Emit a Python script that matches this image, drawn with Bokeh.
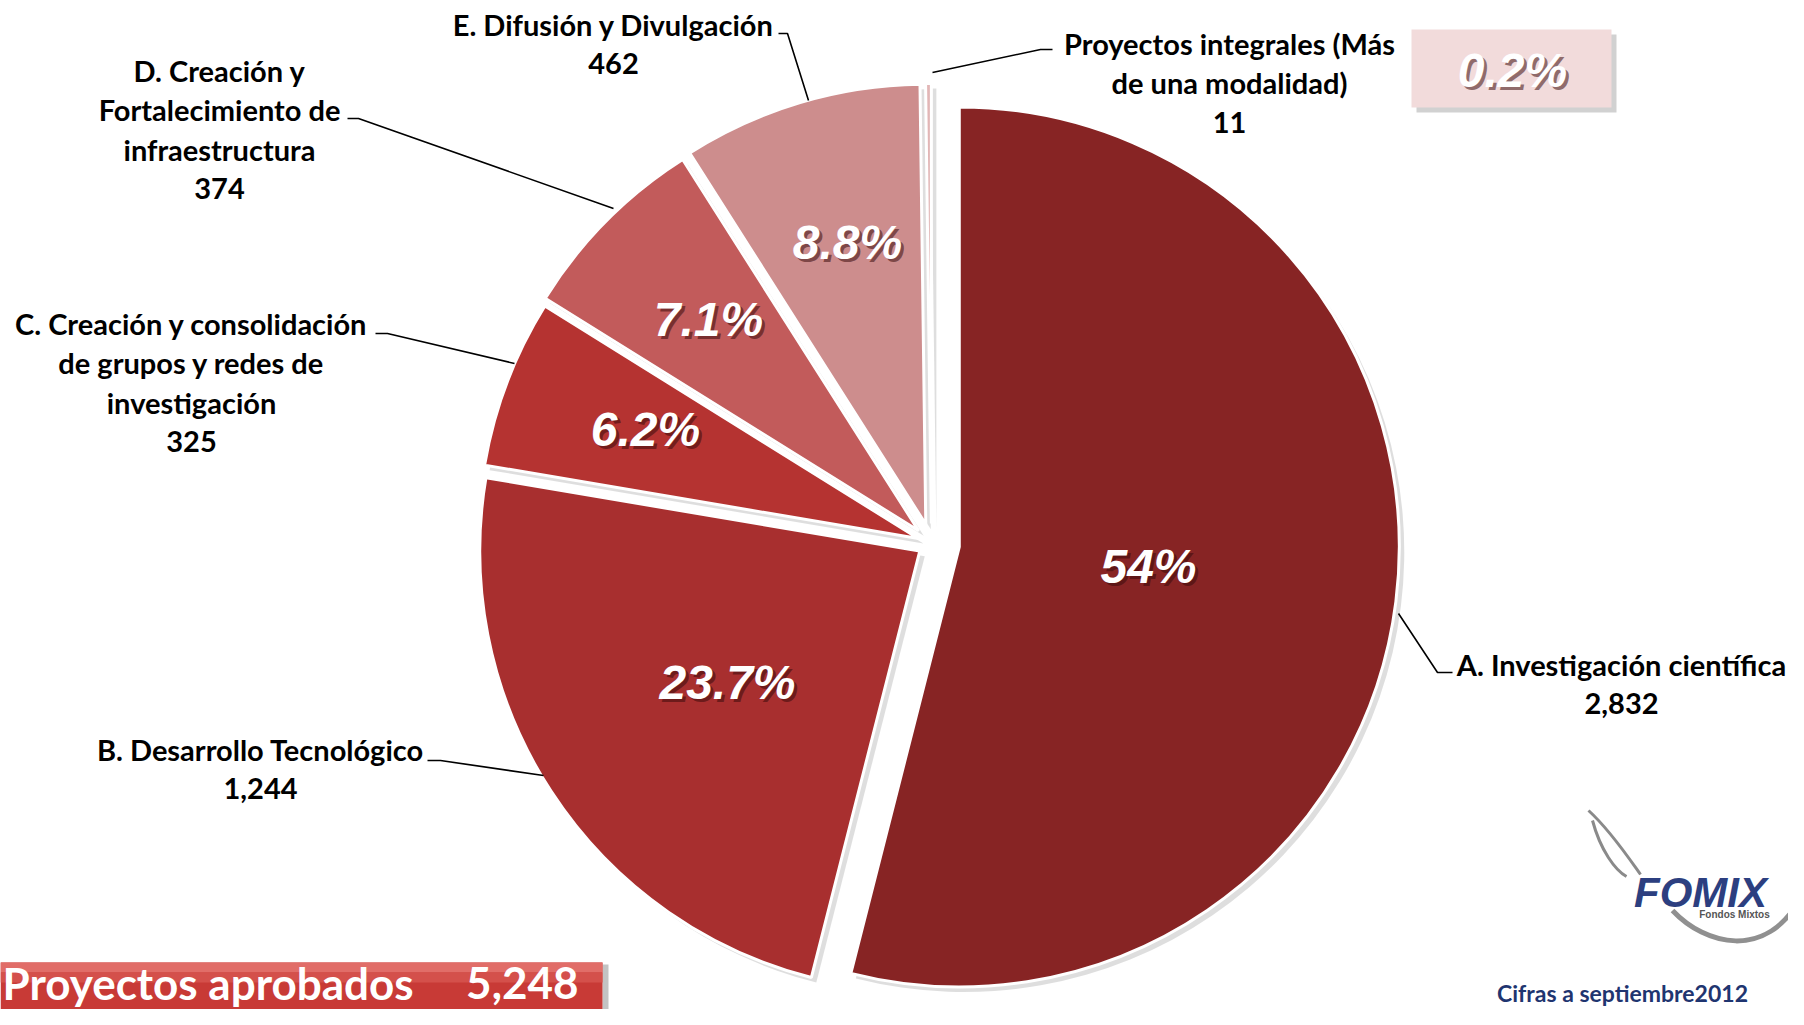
import numpy as np
from bokeh.plotting import figure
from bokeh.models import Range1d
from bokeh.embed import file_html
from bokeh.resources import INLINE
from bokeh.core.properties import value

# ---------------- data ----------------
label_lines = [
    ["A. Investigación científica"],
    ["B. Desarrollo Tecnológico"],
    ["C. Creación y consolidación", "de grupos y redes de", "investigación"],
    ["D. Creación y", "Fortalecimiento de", "infraestructura"],
    ["E. Difusión y Divulgación"],
    ["Proyectos integrales (Más", "de una modalidad)"],
]
counts = [2832, 1244, 325, 374, 462, 11]
total_label = "Proyectos aprobados"
footnote = "Cifras a septiembre2012"
logo_text = "FOMIX"
logo_sub = "Fondos Mixtos"

# ---------------- styles / layout ----------------
W, H = 1788, 1009
def Y(sy):  # reference pixel y -> data y
    return 1025 - sy

slice_colors = ["#872424", "#a82f2f", "#b53331", "#c25b5b", "#cd8d8d", "#e2b6b6"]
explode = [28, 14, 14, 18, 20, 20]
OX, OY, R = 931, Y(543), 440
pct_pos = [(1148, 566), (727, 682), (645, 429), (708, 319), (847, 242), (1512, 70)]
label_pos = [(1621, 664), (260, 749), (191, 323), (219, 70), (613, 24), (1229, 43)]
line_h = 39.3
leaders = [
    [(1398, 613), (1437, 672), (1452, 672)],
    [(543, 775), (440, 760), (427, 760)],
    [(514, 363), (387, 333), (375, 333)],
    [(613, 208), (358, 118), (347, 118)],
    [(808, 100), (787, 33), (778, 33)],
    [(932, 72), (1040, 49), (1052, 49)],
]
LABEL_FONT = value("Lato")
PCT_FONT = value("Liberation Sans")

p = figure(width=W, height=H, x_range=Range1d(0, W), y_range=Range1d(1025 - H, 1025),
           output_backend="svg", toolbar_location=None, min_border=0)
p.axis.visible = False
p.grid.visible = False
p.outline_line_color = None
p.background_fill_color = "white"
p.border_fill_color = "white"

# ---------------- pie ----------------
vals = np.array(counts, dtype=float)
total = vals.sum()
cum = np.cumsum(vals) / total
prev = np.concatenate([[0.0], cum[:-1]])
start = np.pi / 2 - 2 * np.pi * prev
end = np.pi / 2 - 2 * np.pi * cum
mid = (start + end) / 2
cx = OX + np.array(explode) * np.cos(mid)
cy = OY + np.array(explode) * np.sin(mid)

# soft shadow
p.wedge(x=cx + 5, y=cy - 5, radius=R, start_angle=start, end_angle=end, direction="clock",
        fill_color="#000000", fill_alpha=0.13, line_alpha=0)
p.wedge(x=cx, y=cy, radius=R, start_angle=start, end_angle=end, direction="clock",
        fill_color=slice_colors, line_color="white", line_width=3)

# percentage labels
def fmt_pct(v):
    s = f"{100 * v / total:.1f}"
    if s.endswith(".0"):
        s = s[:-2]
    return s + "%"
pcts = [fmt_pct(v) for v in counts]

# 0.2% box (for the tiny slice)
bx0, bx1, by0, by1 = 1411, 1611, 29, 107
p.quad(left=bx0 + 5, right=bx1 + 5, top=Y(by0 + 5), bottom=Y(by1 + 5),
       fill_color="#000000", fill_alpha=0.18, line_alpha=0)
p.quad(left=bx0, right=bx1, top=Y(by0), bottom=Y(by1), fill_color="#f2dbdb", line_alpha=0)

px = [q[0] for q in pct_pos]
py = [Y(q[1]) for q in pct_pos]
p.text(x=[x + 3 for x in px], y=[y - 3 for y in py], text=pcts, text_font=PCT_FONT,
       text_font_style="bold italic", text_font_size="48px", text_align="center",
       text_baseline="middle", text_color="#3a0a0a", text_alpha=0.55)
p.text(x=px, y=py, text=pcts, text_font=PCT_FONT, text_font_style="bold italic",
       text_font_size="48px", text_align="center", text_baseline="middle", text_color="white")

# leader lines
for pts in leaders:
    p.line(x=[q[0] for q in pts], y=[Y(q[1]) for q in pts], line_color="black", line_width=1.6)

# category labels with counts
for lines, cnt, (lx, ly) in zip(label_lines, counts, label_pos):
    all_lines = lines + [f"{cnt:,}"]
    p.text(x=[lx] * len(all_lines), y=[Y(ly + i * line_h) for i in range(len(all_lines))],
           text=all_lines, text_font=LABEL_FONT, text_font_style="bold", text_font_size="29px",
           text_align="center", text_baseline="middle", text_color="black")

# ---------------- bottom-left total box ----------------
btop = 962
p.quad(left=602, right=608, top=Y(btop + 2), bottom=0, fill_color="#888888", fill_alpha=0.5, line_alpha=0)
p.quad(left=0, right=602, top=Y(btop), bottom=0, fill_color="#c83a36", line_alpha=0)
p.quad(left=0, right=602, top=Y(btop), bottom=Y(btop + 10), fill_color="#e16d68", line_alpha=0)
p.quad(left=0, right=602, top=Y(btop + 10), bottom=Y(btop + 20), fill_color="#d4504b", line_alpha=0)
p.text(x=[2], y=[Y(982)], text=[total_label], text_font=LABEL_FONT, text_font_style="bold",
       text_font_size="44px", text_align="left", text_baseline="middle", text_color="white")
p.text(x=[578], y=[Y(982)], text=[f"{int(total):,}"], text_font=LABEL_FONT, text_font_style="bold",
       text_font_size="44px", text_align="right", text_baseline="middle", text_color="white")

# ---------------- footnote ----------------
p.text(x=[1622], y=[Y(992)], text=[footnote], text_font=LABEL_FONT, text_font_style="bold",
       text_font_size="23px", text_align="center", text_baseline="middle", text_color="#1f3570")

# ---------------- logo (approximation) ----------------
p.bezier(x0=[1588, 1592], y0=[Y(810), Y(820)], x1=[1640, 1626], y1=[Y(874), Y(876)],
         cx0=[1610, 1600], cy0=[Y(830), Y(850)], cx1=[1630, 1615], cy1=[Y(860), Y(870)],
         line_color="#8a8a8a", line_width=3)
p.bezier(x0=[1672], y0=[Y(910)], x1=[1800], y1=[Y(898)], cx0=[1705], cy0=[Y(945)],
         cx1=[1765], cy1=[Y(960)], line_color="#909090", line_width=5)
p.text(x=[1700], y=[Y(892)], text=[logo_text], text_font=PCT_FONT, text_font_style="bold italic",
       text_font_size="42px", text_align="center", text_baseline="middle", text_color="#2c3f80")
p.text(x=[1734], y=[Y(914)], text=[logo_sub], text_font=PCT_FONT, text_font_style="bold",
       text_font_size="10px", text_align="center", text_baseline="middle", text_color="#555555")

open("out.html", "w").write(file_html(p, INLINE))
